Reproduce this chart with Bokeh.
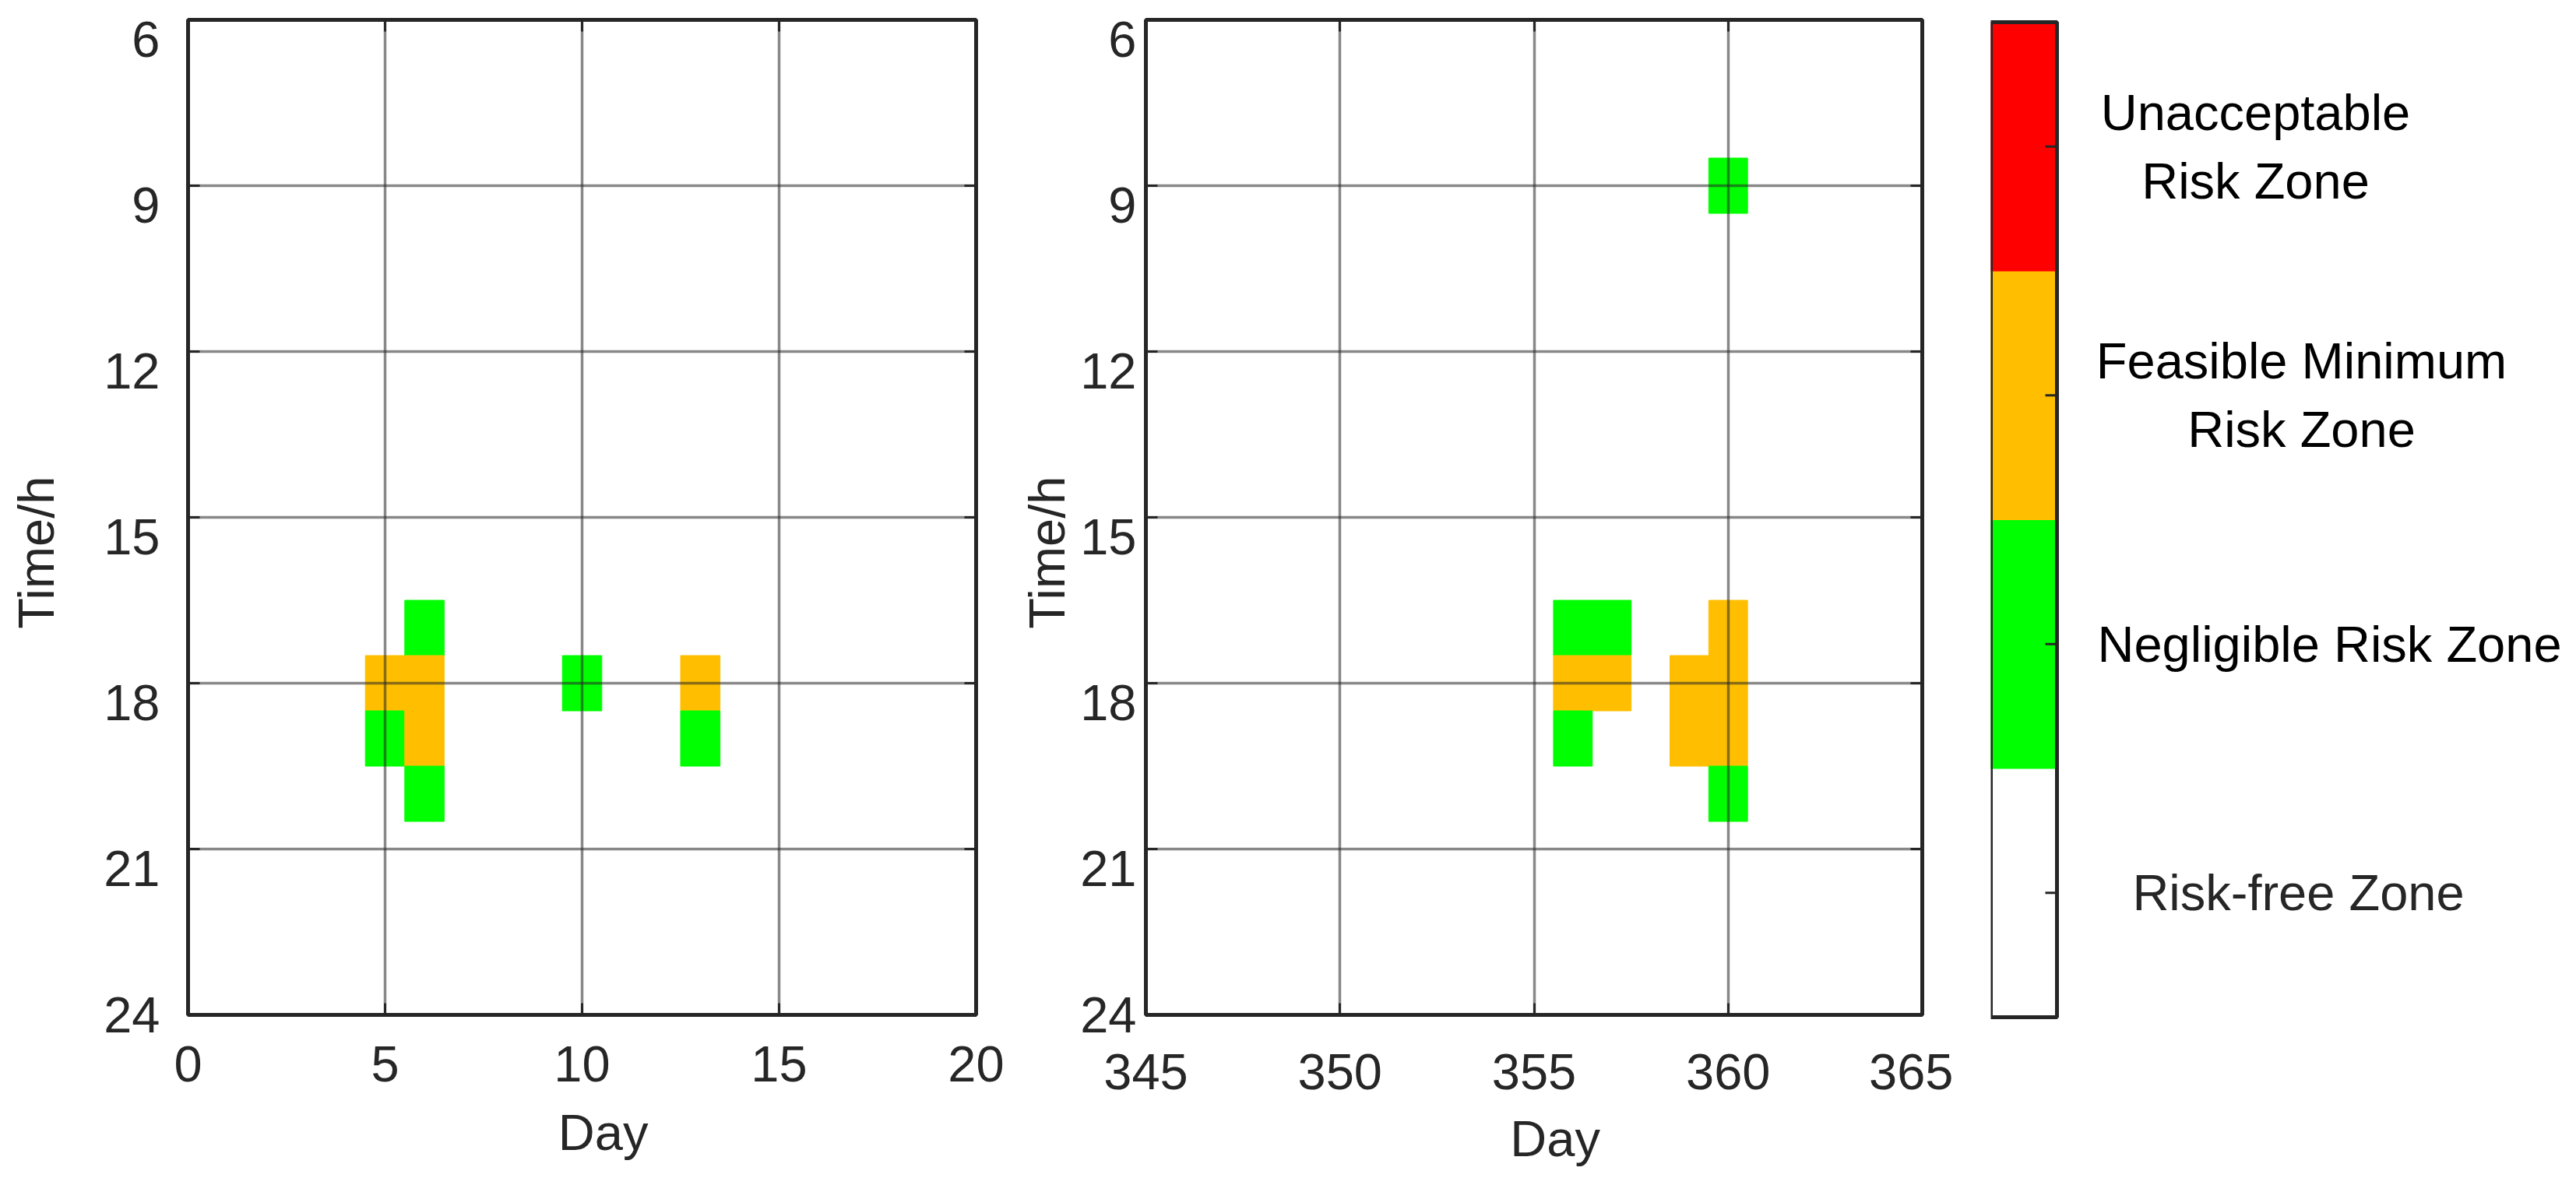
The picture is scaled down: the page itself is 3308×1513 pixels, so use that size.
import numpy as np
from bokeh.plotting import figure
from bokeh.layouts import row
from bokeh.models import Range1d, LinearAxis, FixedTicker, ColumnDataSource
from bokeh.core.properties import value
from bokeh.embed import file_html
from bokeh.resources import INLINE

# ---------------- data ----------------
hour_ticks = [6, 9, 12, 15, 18, 21, 24]
left_day_ticks = [0, 5, 10, 15, 20]
right_day_ticks = [345, 350, 355, 360, 365]

# risk level per cell: 1 = Negligible, 2 = Feasible Minimum
left_days = [5, 5, 6, 6, 6, 6, 10, 13, 13]
left_hours = [18, 19, 17, 18, 19, 20, 18, 18, 19]
left_levels = [2, 1, 1, 2, 2, 1, 1, 2, 1]

right_days = [360, 356, 357, 356, 357, 356, 359, 359, 360, 360, 360, 360]
right_hours = [9, 17, 17, 18, 18, 19, 18, 19, 17, 18, 19, 20]
right_levels = [1, 1, 1, 2, 2, 1, 2, 2, 2, 2, 2, 1]

zone_levels = [0, 1, 2, 3]
zone_names = ["Risk-free Zone", "Negligible Risk Zone",
              "Feasible Minimum\nRisk Zone", "Unacceptable\nRisk Zone"]
zone_colors = ["#FFFFFF", "#00FF00", "#FFBF00", "#FF0000"]

x_title = "Day"
y_title = "Time/h"

# ---------------- styles ----------------
FONT = "Liberation Sans"
FS = "65px"
INK = "#262626"
FRAME_H = 1278
TOP = 25
LABEL_SHIFT_PX = 25  # hour labels sit just below their tick (as in the original)
NBSP = "\u00a0"      # used to nudge the axis titles off-centre like the original


def panel(days, hours, levels, xticks, frame_w, b_left, b_right,
          y_std, ylab_std, ylab_pad, x_std, xlab_std, xlab_pad):
    p = figure(frame_width=frame_w, frame_height=FRAME_H,
               x_range=Range1d(xticks[0], xticks[-1]),
               y_range=Range1d(hour_ticks[-1], hour_ticks[0]),
               output_backend="svg", toolbar_location=None,
               min_border_left=b_left, min_border_right=b_right,
               min_border_top=TOP, min_border_bottom=120,
               x_axis_label=NBSP * xlab_pad + x_title)
    p.background_fill_color = "white"
    p.border_fill_color = "white"
    src = ColumnDataSource(dict(x=days, y=hours,
                                c=[zone_colors[l] for l in levels]))
    p.rect(x="x", y="y", width=1, height=1, source=src,
           fill_color="c", line_color="c", line_width=1)

    p.xaxis.ticker = FixedTicker(ticks=xticks)
    p.yaxis.ticker = FixedTicker(ticks=hour_ticks)
    p.xgrid.ticker = FixedTicker(ticks=xticks[1:-1])
    p.ygrid.ticker = FixedTicker(ticks=hour_ticks[1:-1])
    for g in (p.xgrid, p.ygrid):
        g.grid_line_color = INK
        g.grid_line_alpha = 0.55
        g.grid_line_width = 3.5
        g.level = "annotation"

    tick_style = dict(axis_line_color=None, major_tick_in=15, major_tick_out=0,
                      major_tick_line_color=INK, major_tick_line_width=3,
                      minor_tick_line_color=None)
    label_style = dict(major_label_text_font=FONT, major_label_text_font_size=FS,
                       major_label_text_color=INK)
    title_style = dict(axis_label_text_font=FONT, axis_label_text_font_size=FS,
                       axis_label_text_font_style="normal",
                       axis_label_text_color=INK)

    xa = p.xaxis[0]
    ya = p.yaxis[0]
    for k, v in tick_style.items():
        setattr(xa, k, v)
        setattr(ya, k, v)
    for k, v in {**label_style, **title_style}.items():
        setattr(xa, k, v)
    xa.major_label_standoff = x_std
    xa.axis_label_standoff = xlab_std
    # default left axis: tick marks only
    ya.major_label_text_font_size = "0px"
    ya.major_label_text_color = None
    ya.major_label_standoff = 0

    # left axis carrying the hour labels (just below each tick) and the title
    px_per_h = FRAME_H / (hour_ticks[-1] - hour_ticks[0])
    shift = LABEL_SHIFT_PX / px_per_h
    lab_pos = [round(h + shift, 4) for h in hour_ticks[:-1]] + [hour_ticks[-1]]
    lab_txt = {pos: str(h) for pos, h in zip(lab_pos, hour_ticks)}
    ly = LinearAxis(ticker=FixedTicker(ticks=lab_pos),
                    major_label_overrides=lab_txt,
                    axis_line_color=None, major_tick_line_color=None,
                    minor_tick_line_color=None, major_tick_in=0, major_tick_out=0,
                    major_label_standoff=y_std,
                    axis_label=y_title + NBSP * ylab_pad,
                    axis_label_standoff=ylab_std,
                    **label_style, **title_style)
    p.add_layout(ly, "left")

    for loc, ticks in (("right", hour_ticks), ("above", xticks)):
        ax = LinearAxis(ticker=FixedTicker(ticks=ticks),
                        major_label_text_font_size="0px",
                        major_label_text_color=None,
                        major_label_standoff=0, **tick_style)
        p.add_layout(ax, loc)

    p.outline_line_color = INK
    p.outline_line_width = 5
    p.outline_line_alpha = 1.0
    return p


p1 = panel(left_days, left_hours, left_levels, left_day_ticks,
           1012, 241, 44, 36, 47, 5, 40, 26, 3)
p2 = panel(right_days, right_hours, right_levels, right_day_ticks,
           997, 174, 40, 12, 3, 5, 50, 24, 3)

# ---------------- colour bar ----------------
BAR_PX = 85.0
CB_W = 744
pad = 3.0 / (FRAME_H / len(zone_levels))
cb = figure(frame_width=CB_W, frame_height=FRAME_H + 6,
            x_range=Range1d(0, CB_W / BAR_PX),
            y_range=Range1d(zone_levels[0] - pad, zone_levels[-1] + 1 + pad),
            output_backend="svg", toolbar_location=None,
            x_axis_location=None, y_axis_location=None,
            min_border_left=48, min_border_right=0,
            min_border_top=TOP - 3, min_border_bottom=120)
cb.outline_line_color = None
cb.grid.visible = False
cb.background_fill_color = "white"
cb.border_fill_color = "white"

bottoms = zone_levels
tops = [l + 1 for l in zone_levels]
mids = [l + 0.5 for l in zone_levels]
cb.quad(left=0, right=1, bottom=bottoms, top=tops,
        fill_color=zone_colors, line_color=zone_colors, line_width=1)
cb.quad(left=0, right=1, bottom=min(bottoms), top=max(tops),
        fill_color=None, line_color=INK, line_width=5)
cb.ray(x=[1] * len(mids), y=mids, length=15, length_units="screen",
       angle=np.pi, line_color=INK, line_width=3)

label_dx = [310, 350, 314, 255]
label_colors = [INK, "#000000", "#000000", "#000000"]
cb.text(x=[1] * len(mids), y=mids, text=zone_names, x_offset=label_dx,
        text_align="center", text_baseline="middle",
        text_font=value(FONT), text_font_size=FS, text_color=label_colors,
        text_line_height=1.2)

layout = row(p1, p2, cb)
open("out.html", "w").write(file_html(layout, INLINE))
